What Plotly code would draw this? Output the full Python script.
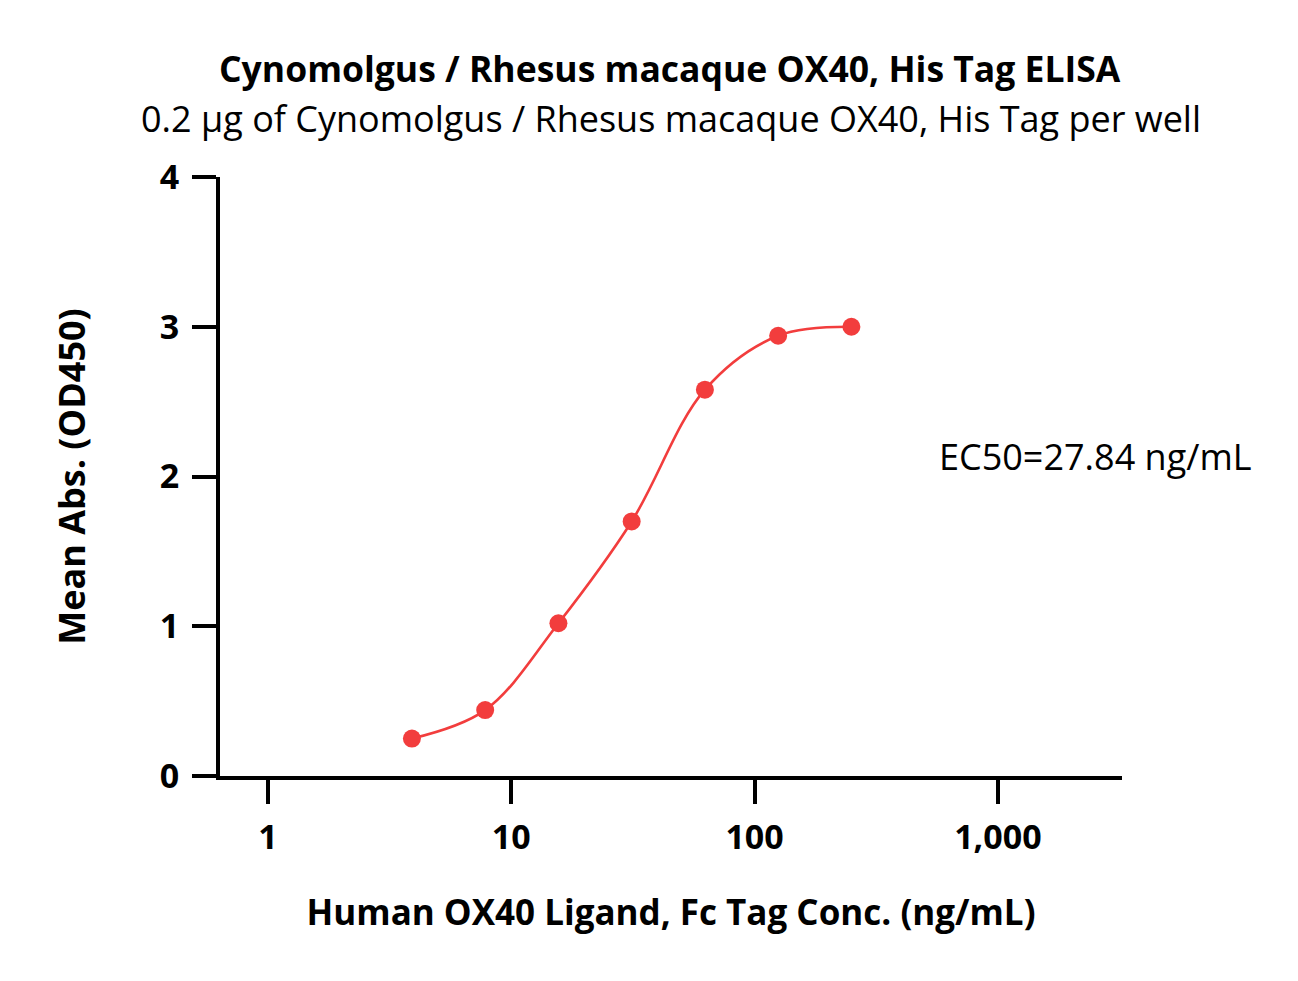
import plotly.graph_objects as go

conc = [3.906, 7.8125, 15.625, 31.25, 62.5, 125, 250]
absorb = [0.25, 0.44, 1.02, 1.70, 2.58, 2.94, 3.00]
x_ticks = [1, 10, 100, 1000]
x_ticklabels = ["1", "10", "100", "1,000"]
y_ticks = [0, 1, 2, 3, 4]

RED = "#F23D3D"
FONT = "Open Sans"

fig = go.Figure()
fig.add_trace(go.Scatter(x=conc, y=absorb, mode="lines",
                         line=dict(color=RED, width=2.6, shape="spline", smoothing=1.0),
                         hoverinfo="skip", showlegend=False))
fig.add_trace(go.Scatter(x=conc, y=absorb, mode="markers",
                         marker=dict(color=RED, size=18), showlegend=False))

fig.update_layout(
    width=1298, height=981,
    paper_bgcolor="white", plot_bgcolor="white",
    margin=dict(l=220, r=176, t=177, b=205),
    font=dict(family=FONT, color="black"),
    xaxis=dict(type="log", range=[-0.197, 3.51], tickvals=x_ticks, ticktext=x_ticklabels,
               showline=True, linecolor="black", linewidth=4, ticks="outside",
               ticklen=24, tickwidth=4, tickcolor="black", showgrid=False, zeroline=False,
               tickfont=dict(size=34, family=FONT, weight="bold"), ticklabelstandoff=4,
               title=dict(text="Human OX40 Ligand, Fc Tag Conc. (ng/mL)",
                          font=dict(size=35, family=FONT, weight="bold"), standoff=44)),
    yaxis=dict(range=[0, 4], tickvals=y_ticks, showline=True, linecolor="black", linewidth=4,
               ticks="outside", ticklen=24, tickwidth=4, tickcolor="black",
               showgrid=False, zeroline=False,
               tickfont=dict(size=34, family=FONT, weight="bold"), ticklabelstandoff=6,
               title=dict(text="Mean Abs. (OD450)",
                          font=dict(size=36, family=FONT, weight="bold"), standoff=64)),
    annotations=[
        dict(text="<b>Cynomolgus / Rhesus macaque OX40, His Tag ELISA</b>", x=0.5, y=1,
             xref="paper", yref="paper", showarrow=False, font=dict(size=35.5, family=FONT)),
        dict(text="0.2 μg of Cynomolgus / Rhesus macaque OX40, His Tag per well", x=0.5, y=1,
             xref="paper", yref="paper", showarrow=False, font=dict(size=36, family=FONT)),
        dict(text="EC50=27.84 ng/mL", x=1.0, y=0, xref="paper", yref="paper",
             showarrow=False, font=dict(size=36, family=FONT)),
    ],
)
H = 981 - 177 - 205
W = 1298 - 220 - 176
def py(ypix):
    return (981 - 205 - ypix) / H
def px(xpix):
    return (xpix - 220) / W
anns = list(fig.layout.annotations)
anns[0].update(x=px(670), y=py(68), xanchor="center", yanchor="middle")
anns[1].update(x=px(671), y=py(119), xanchor="center", yanchor="middle")
anns[2].update(x=px(937), y=py(456), xanchor="left", yanchor="middle")
fig.layout.annotations = anns

fig.write_html("out.html")
